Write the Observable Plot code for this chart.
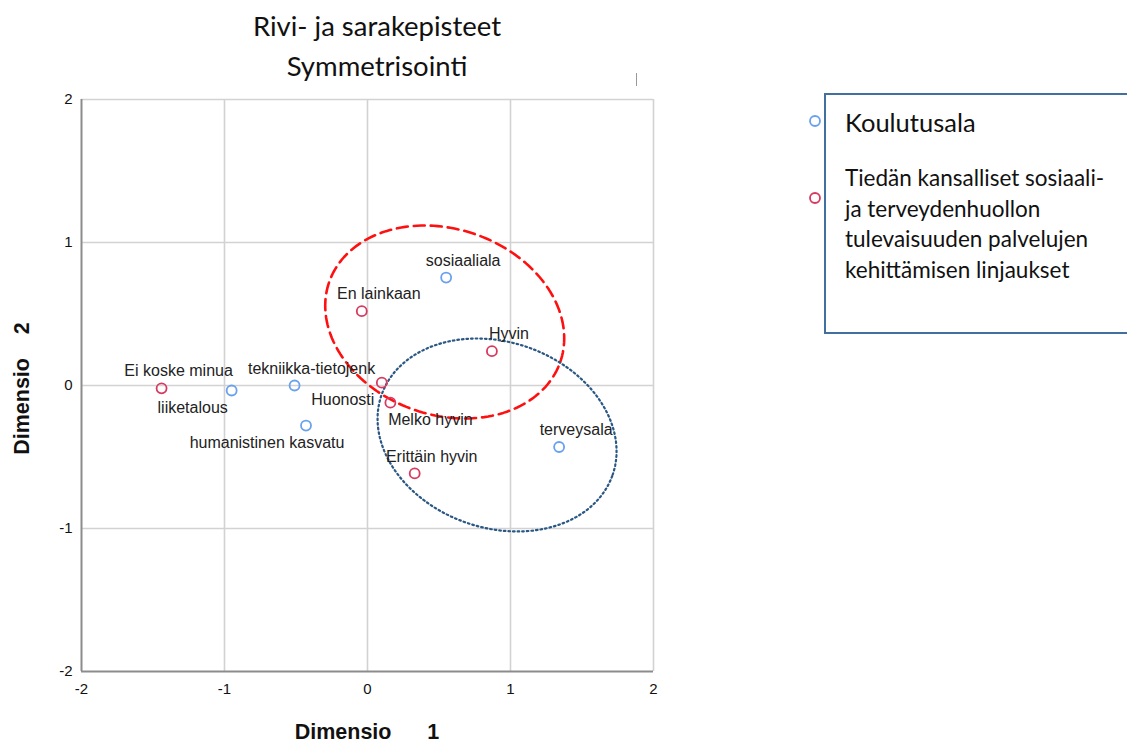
<!DOCTYPE html>
<html>
<head>
<meta charset="utf-8">
<script src="https://cdn.jsdelivr.net/npm/d3@7"></script>
<script src="https://cdn.jsdelivr.net/npm/@observablehq/plot@0.6"></script>
<style>
  html, body { margin: 0; padding: 0; background: #fff; }
  #wrap { position: relative; width: 1127px; height: 747px; overflow: hidden; }
  #chart { position: absolute; left: 0; top: 0; }
  .title { position: absolute; left: 127px; width: 500px; text-align: center; font-family: Lato, "Open Sans", sans-serif; font-size: 27.5px; color: #111; line-height: 32px; }
  .axtitle { position: absolute; font-family: "Liberation Sans", Arial, sans-serif; font-weight: bold; font-size: 21.5px; color: #111; white-space: pre; }
  #legendbox { position: absolute; left: 824px; top: 93px; width: 320px; height: 241px; border: 2px solid #41709f; box-sizing: border-box; }
  .legtext { position: absolute; left: 845px; font-family: Lato, "Open Sans", sans-serif; color: #111; white-space: nowrap; }
</style>
</head>
<body>
<div id="wrap">
  <div id="chart"></div>
  <div class="title" style="top:10px">Rivi- ja sarakepisteet</div>
  <div class="title" style="top:50px">Symmetrisointi</div>
  <div style="position:absolute;left:636px;top:73px;width:1px;height:13px;background:#999"></div>
  <div class="axtitle" style="left:0;width:734px;text-align:center;top:720px">Dimensio      1</div>
  <div class="axtitle" style="left:-80px;width:204px;text-align:center;top:376px;transform:rotate(-90deg)">Dimensio    2</div>
  <div id="legendbox"></div>
  <svg style="position:absolute;left:0;top:0" width="1127" height="747" id="legmarks"></svg>
  <div class="legtext" id="leg1" style="top:106px;font-size:25.5px;line-height:32px"></div>
  <div class="legtext" id="leg2" style="top:163px;font-size:22.5px;line-height:30.5px"></div>
</div>
<script>
// ---- Data ----
const koulutusalaNames = ["liiketalous", "tekniikka-tietojenk", "humanistinen kasvatu", "sosiaaliala", "terveysala"];
const koulutusalaDim1 = [-0.95, -0.51, -0.43, 0.55, 1.34];
const koulutusalaDim2 = [-0.035, 0.0, -0.28, 0.755, -0.43];
const koulutusalaLabelPlace = ["belowLeft", "above", "belowLeft", "above", "above"];

const tiedanNames = ["Ei koske minua", "En lainkaan", "Huonosti", "Melko hyvin", "Hyvin", "Erittäin hyvin"];
const tiedanDim1 = [-1.44, -0.04, 0.10, 0.16, 0.87, 0.33];
const tiedanDim2 = [-0.02, 0.52, 0.02, -0.12, 0.24, -0.615];
const tiedanLabelPlace = ["above", "above", "belowLeft", "belowRight", "above", "above"];

const seriesNames = ["Koulutusala", "Tiedän kansalliset sosiaali- ja terveydenhuollon tulevaisuuden palvelujen kehittämisen linjaukset"];
const legendLines2 = ["Tiedän kansalliset sosiaali-", "ja terveydenhuollon", "tulevaisuuden palvelujen", "kehittämisen linjaukset"];

const axisTicks = [-2, -1, 0, 1, 2];
const gridTicks = [-1, 0, 1, 2];
const domainDim = [-2, 2];

// Ellipses (annotations): centre, semi-axes, rotation in degrees
const ellipseNames = ["red", "blue"];
const ellipseCx = [0.54, 0.906];
const ellipseCy = [0.444, -0.346];
const ellipseA = [0.855, 0.855];
const ellipseB = [0.65, 0.65];
const ellipseAngle = [-19, -19];

// ---- Build tables ----
const colors = {Koulutusala: "#6aa1ee", Tiedan: "#d8395e"};
const placeOffsets = {above: [17, -17], belowLeft: [-39, 17], belowRight: [40, 17]};

const points = [
  ...koulutusalaNames.map((n, i) => ({name: n, d1: koulutusalaDim1[i], d2: koulutusalaDim2[i], group: "Koulutusala", place: koulutusalaLabelPlace[i]})),
  ...tiedanNames.map((n, i) => ({name: n, d1: tiedanDim1[i], d2: tiedanDim2[i], group: "Tiedan", place: tiedanLabelPlace[i]}))
];

function ellipseOutline(k) {
  const out = [];
  const th = ellipseAngle[k] * Math.PI / 180;
  for (let i = 0; i < 180; i++) {
    const t = i / 180 * 2 * Math.PI;
    const ex = ellipseA[k] * Math.cos(t), ey = ellipseB[k] * Math.sin(t);
    out.push({x: ellipseCx[k] + ex * Math.cos(th) - ey * Math.sin(th), y: ellipseCy[k] + ex * Math.sin(th) + ey * Math.cos(th)});
  }
  return out;
}

const textMarks = Object.entries(placeOffsets).map(([p, [dx, dy]]) =>
  Plot.text(points.filter(d => d.place === p), {x: "d1", y: "d2", text: "name", dx, dy, textAnchor: "middle", fill: "#222", fontSize: 16})
);

const chart = Plot.plot({
  width: 1127,
  height: 747,
  marginLeft: 81,
  marginRight: 474,
  marginTop: 99,
  marginBottom: 76,
  style: {fontFamily: "'Liberation Sans', Arial, sans-serif", fontSize: "14px", color: "#222", background: "transparent"},
  x: {domain: domainDim},
  y: {domain: domainDim},
  marks: [
    Plot.ruleX(gridTicks, {stroke: "#d2d2d2", strokeWidth: 1.6}),
    Plot.ruleY(gridTicks, {stroke: "#d2d2d2", strokeWidth: 1.6}),
    Plot.ruleX([domainDim[0]], {stroke: "#8c8c8c", strokeWidth: 2}),
    Plot.ruleY([domainDim[0]], {stroke: "#8c8c8c", strokeWidth: 2}),
    Plot.axisX({ticks: axisTicks, tickSize: 0, tickPadding: 12, tickFormat: d => String(d), label: null, fontSize: 15, fill: "#111"}),
    Plot.axisY({ticks: axisTicks, tickSize: 0, tickPadding: 9, tickFormat: d => String(d), label: null, fontSize: 15, fill: "#111"}),
    Plot.line(ellipseOutline(0), {x: "x", y: "y", curve: "linear-closed", stroke: "#ff1010", strokeWidth: 2.6, strokeDasharray: "11,6"}),
    Plot.line(ellipseOutline(1), {x: "x", y: "y", curve: "linear-closed", stroke: "#2a5783", strokeWidth: 2.2, strokeDasharray: "1.6,3", strokeLinecap: "round"}),
    Plot.dot(points, {x: "d1", y: "d2", r: 5, stroke: d => colors[d.group], strokeWidth: 1.8, fill: "none"}),
    ...textMarks
  ]
});
document.getElementById("chart").appendChild(chart);

// ---- Legend ----
document.getElementById("leg1").textContent = seriesNames[0];
document.getElementById("leg2").innerHTML = legendLines2.join("<br>");
const lm = d3.select("#legmarks");
lm.append("circle").attr("cx", 815).attr("cy", 121).attr("r", 5).attr("fill", "none").attr("stroke", colors.Koulutusala).attr("stroke-width", 1.8);
lm.append("circle").attr("cx", 815).attr("cy", 198).attr("r", 5).attr("fill", "none").attr("stroke", colors.Tiedan).attr("stroke-width", 1.8);
</script>
</body>
</html>
